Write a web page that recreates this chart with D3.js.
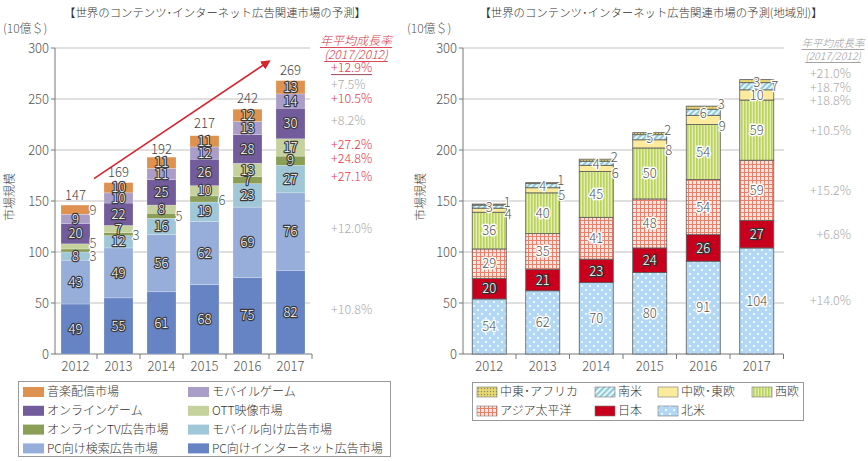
<!DOCTYPE html>
<html><head><meta charset="utf-8">
<script src="https://cdn.jsdelivr.net/npm/d3@7"></script>
<style>
body{margin:0;background:#fff}
text{font-family:"Noto Sans CJK JP","Noto Sans",sans-serif;font-weight:300}
</style>
</head><body>
<svg id="c" width="868" height="461"></svg>
<script>
// ---------- data ----------
const years = ["2012","2013","2014","2015","2016","2017"];
const yTicks = [0,50,100,150,200,250,300];

const leftSeries = ["PC向けインターネット広告市場","PC向け検索広告市場","モバイル向け広告市場","オンラインTV広告市場","OTT映像市場","オンラインゲーム","モバイルゲーム","音楽配信市場"];
const pcInternet = [49,55,61,68,75,82];
const pcSearch   = [43,49,56,62,69,76];
const mobileAd   = [8,12,16,19,23,27];
const onlineTV   = [3,3,5,6,7,9];
const ottVideo   = [5,7,8,10,13,17];
const onlineGame = [20,22,25,26,28,30];
const mobileGame = [9,10,11,12,13,14];
const musicDist  = [9,10,11,11,12,13];
const leftTotals = [147,169,192,217,242,269];
const leftGrowth = ["+10.8%","+12.0%","+27.1%","+24.8%","+27.2%","+8.2%","+10.5%","+7.5%"];
const leftGrowthHigh = [false,false,true,true,true,false,true,false];
const leftTotalGrowth = "+12.9%";

const rightSeries = ["北米","日本","アジア太平洋","西欧","中欧･東欧","南米","中東･アフリカ"];
const northAmerica = [54,62,70,80,91,104];
const japan        = [20,21,23,24,26,27];
const asiaPacific  = [29,35,41,48,54,59];
const westEurope   = [36,40,45,50,54,59];
const ceEurope     = [4,5,6,8,9,10];
const southAmerica = [3,4,4,5,6,7];
const meAfrica     = [1,1,2,2,3,3];
const rightGrowth = ["+14.0%","+6.8%","+15.2%","+10.5%","+18.8%","+18.7%","+21.0%"];

const leftValues = [pcInternet,pcSearch,mobileAd,onlineTV,ottVideo,onlineGame,mobileGame,musicDist];
const rightValues = [northAmerica,japan,asiaPacific,westEurope,ceEurope,southAmerica,meAfrica];

// ---------- styles ----------
const leftColors = ["#6683c3","#97aedb","#a0c7d7","#8a9e55","#c6d29e","#735c9c","#aa9dc8","#df914f"];
const rightFills = ["url(#pNA)","#c8001e","url(#pAP)","url(#pWE)","#fdeb9d","url(#pSA)","url(#pME)"];

const svg = d3.select("#c");
const defs = svg.append("defs");
function pat(id,w,h,build){const p=defs.append("pattern").attr("id",id).attr("patternUnits","userSpaceOnUse").attr("width",w).attr("height",h);build(p);return p;}
pat("pNA",8,8,p=>{p.append("rect").attr("width",8).attr("height",8).attr("fill","#b2d8f6");
  p.append("circle").attr("cx",2).attr("cy",2).attr("r",1.1).attr("fill","#fff");
  p.append("circle").attr("cx",6).attr("cy",6).attr("r",1.1).attr("fill","#fff");});
pat("pAP",4,4,p=>{p.append("rect").attr("width",4).attr("height",4).attr("fill","#fbe7e2");
  p.append("path").attr("d","M0.5,0V4M0,0.5H4").attr("stroke","#e8806c").attr("stroke-width",1);});
pat("pWE",3,3,p=>{p.append("rect").attr("width",3).attr("height",3).attr("fill","#e2edb0");
  p.append("rect").attr("width",1.6).attr("height",3).attr("fill","#bcd25e");});
pat("pSA",4,4,p=>{p.attr("patternTransform","rotate(45)");p.append("rect").attr("width",4).attr("height",4).attr("fill","#e8f5f8");
  p.append("rect").attr("width",2).attr("height",4).attr("fill","#8ecad8");});
pat("pME",3,3,p=>{p.append("rect").attr("width",3).attr("height",3).attr("fill","#e8d870");
  p.append("circle").attr("cx",1.5).attr("cy",1.5).attr("r",0.7).attr("fill","#8a8a70");});
defs.append("marker").attr("id","arr").attr("viewBox","0 0 10 10").attr("refX",8).attr("refY",5)
  .attr("markerWidth",6).attr("markerHeight",6).attr("orient","auto")
  .append("path").attr("d","M0,0L10,5L0,10z").attr("fill","#d8232f");

const y = d3.scaleLinear().domain([0,300]).range([354,48]);
const xL = d3.scaleBand().domain(years).range([54,312]).paddingInner(0.326).paddingOuter(0.163);
const xR = d3.scaleBand().domain(years).range([462.5,783.5]).paddingInner(0.364).paddingOuter(0.182);

function frame(x, axisX, gridEnd){
  const g = svg.append("g");
  g.selectAll(".gl").data(yTicks.filter(d=>d>0)).join("line")
    .attr("x1",axisX).attr("x2",gridEnd).attr("y1",d=>y(d)).attr("y2",d=>y(d))
    .attr("stroke","#d6d6d6").attr("stroke-width",1.5);
  g.append("line").attr("x1",axisX).attr("x2",axisX).attr("y1",y(300)).attr("y2",y(0)).attr("stroke","#777");
  g.selectAll(".tk").data(yTicks).join("line").attr("x1",axisX-4).attr("x2",axisX).attr("y1",d=>y(d)).attr("y2",d=>y(d)).attr("stroke","#777");
  g.selectAll(".tl").data(yTicks).join("text").attr("x",axisX-6).attr("y",d=>y(d)).attr("dy","0.35em")
    .attr("text-anchor","end").attr("font-size",13).attr("fill","#555").text(d=>d);
  g.append("line").attr("x1",axisX).attr("x2",x.range()[1]).attr("y1",y(0)).attr("y2",y(0)).attr("stroke","#777");
  g.selectAll(".bt").data(years).join("line")
    .attr("x1",d=>x(d)+x.bandwidth()+x.step()*x.paddingInner()/2).attr("x2",d=>x(d)+x.bandwidth()+x.step()*x.paddingInner()/2)
    .attr("y1",y(0)).attr("y2",y(0)+5).attr("stroke","#777");
  g.selectAll(".xl").data(years).join("text").attr("x",d=>x(d)+x.bandwidth()/2).attr("y",371)
    .attr("text-anchor","middle").attr("font-size",13).attr("fill","#555").text(d=>d);
  return g;
}
function relax(items, gap){
  for(let it=0;it<100;it++){
    items.sort((a,b)=>b.y-a.y);
    for(let i=1;i<items.length;i++){
      const a=items[i-1], b=items[i];
      if(a.y-b.y<gap){const d=(gap-(a.y-b.y))/2; if(!a.fixed) a.y+=d; else b.y-=d; if(!b.fixed) b.y-=d; else a.y+=d;}
    }
  }
  return items;
}
function label(g,x,yy,t,fill,stroke,sw){
  g.append("text").attr("x",x).attr("y",yy).attr("dy","0.36em").attr("text-anchor","middle")
   .attr("font-size",13).attr("fill",fill).attr("stroke",stroke).attr("stroke-width",sw)
   .attr("stroke-linejoin","round").attr("paint-order","stroke").text(t);
}

// ---------- titles ----------
svg.append("text").attr("x",215).attr("y",17).attr("text-anchor","middle").attr("font-size",11.4).attr("font-weight",400).attr("fill","#333")
  .text("【世界のコンテンツ･インターネット広告関連市場の予測】");
svg.append("text").attr("x",651).attr("y",17).attr("text-anchor","middle").attr("font-size",11.4).attr("font-weight",400).attr("fill","#333")
  .text("【世界のコンテンツ･インターネット広告関連市場の予測(地域別)】");
[[3],[407]].forEach(([x0])=>svg.append("text").attr("x",x0).attr("y",33).attr("font-size",12).attr("fill","#555").text("(10億＄)"));
[[10],[421]].forEach(([x0])=>svg.append("text").attr("transform",`translate(${x0+4},197) rotate(-90)`).attr("text-anchor","middle")
  .attr("font-size",12).attr("fill","#444").text("市場規模"));

// ---------- left chart ----------
const gL = frame(xL,55,310);
const stackL = d3.stack().keys(d3.range(leftSeries.length)).value((d,k)=>leftValues[k][d])(d3.range(years.length));
const outsideL = new Set(["0|7"]);
stackL.forEach((s,k)=>{
  gL.selectAll(null).data(s).join("rect")
    .attr("x",(d,i)=>xL(years[i])).attr("width",xL.bandwidth())
    .attr("y",d=>y(d[1])).attr("height",d=>y(d[0])-y(d[1]))
    .attr("fill",leftColors[k]).attr("stroke","#ffffff").attr("stroke-opacity",0.35).attr("stroke-width",0.6);
});
years.forEach((yr,i)=>{
  const outs=[];
  stackL.forEach((s,k)=>{
    const d=s[i], v=leftValues[k][i], mid=y((d[0]+d[1])/2);
    if(v<=6 || outsideL.has(i+"|"+k)) outs.push({y:mid+1,t:v});
    else label(gL,xL(yr)+xL.bandwidth()/2,mid,v,"#fff","#3a3a3a",2.4);
  });
  relax(outs,13).forEach(o=>label(gL,xL(yr)+xL.bandwidth()+3,o.y,o.t,"#555","#fff",2.5));
  gL.append("text").attr("x",xL(yr)+xL.bandwidth()/2).attr("y",y(leftTotals[i])-9).attr("dy","0.36em")
    .attr("text-anchor","middle").attr("font-size",13).attr("fill","#444").text(leftTotals[i]);
});
// arrow
svg.append("line").attr("x1",xL("2012")+xL.bandwidth()+4).attr("y1",y(172))
  .attr("x2",xL("2017")-7).attr("y2",y(287)).attr("stroke","#d8232f").attr("stroke-width",1.6).attr("marker-end","url(#arr)");
// growth headers
function header(cx,color,fs,y1,y2){
  const g=svg.append("g");
  [["年平均成長率",y1],["(2017/2012)",y2]].forEach(([t,yy])=>{
    const tx=g.append("text").attr("x",cx).attr("y",yy).attr("text-anchor","middle").attr("font-size",fs)
      .attr("font-style","italic").attr("fill",color).text(t);
    const w=tx.node().getComputedTextLength();
    g.append("line").attr("x1",cx-w/2).attr("x2",cx+w/2).attr("y1",yy+2.5).attr("y2",yy+2.5).attr("stroke",color).attr("stroke-width",0.9);
  });
}
header(356,"#d8344a",12,45,59);
header(833,"#999",10.5,47,60);
const last=years.length-1;
const gLitems = stackL.map((s,k)=>({y:y((s[last][0]+s[last][1])/2)-3,t:leftGrowth[k],c:leftGrowthHigh[k]?"#e0364a":"#a9a9a9"}));
gLitems.push({y:y(leftTotals[last])-12,t:leftTotalGrowth,c:"#e0364a",fixed:true,total:true});
relax(gLitems,14).forEach(o=>{
  const t=svg.append("text").attr("x",331).attr("y",o.y).attr("dy","0.36em").attr("font-size",12.5).attr("fill",o.c).text(o.t);
  if(o.total){const w=t.node().getComputedTextLength();
    svg.append("line").attr("x1",331).attr("x2",331+w).attr("y1",o.y+7).attr("y2",o.y+7).attr("stroke","#9b4a58").attr("stroke-width",1);}
});

// ---------- right chart ----------
const gR = frame(xR,463,784);
const stackR = d3.stack().keys(d3.range(rightSeries.length)).value((d,k)=>rightValues[k][d])(d3.range(years.length));
stackR.forEach((s,k)=>{
  gR.selectAll(null).data(s).join("rect")
    .attr("x",(d,i)=>xR(years[i])).attr("width",xR.bandwidth())
    .attr("y",d=>y(d[1])).attr("height",d=>y(d[0])-y(d[1]))
    .attr("fill",rightFills[k]).attr("stroke","#5a5a5a").attr("stroke-width",0.8);
});
years.forEach((yr,i)=>{
  const cx=xR(yr)+xR.bandwidth()/2, rx=xR(yr)+xR.bandwidth()+1;
  stackR.forEach((s,k)=>{
    const d=s[i], v=rightValues[k][i], mid=y((d[0]+d[1])/2);
    if(k<=3){ if(k===1) label(gR,cx,mid,v,"#fff","#333",2.4); else label(gR,cx,mid,v,"#555","#fff",3); }
  });
  const ce=stackR[4][i], sa=stackR[5][i], me=stackR[6][i];
  const saOut = southAmerica[i]>=7;
  if(ceEurope[i]<10) label(gR,rx+1,y(ce[0])+2,ceEurope[i],"#555","#fff",2.5);
  else label(gR,cx,y((ce[0]+ce[1])/2),ceEurope[i],"#555","#fff",2.5);
  if(saOut){
    label(gR,rx,y((sa[0]+sa[1])/2),southAmerica[i],"#555","#fff",2.5);
    label(gR,cx,y((me[0]+me[1])/2)+1,meAfrica[i],"#555","#fff",2.5);
  } else {
    label(gR,cx,y((sa[0]+sa[1])/2)+1,southAmerica[i],"#555","#fff",2.5);
    label(gR,rx,y(me[1])-2,meAfrica[i],"#555","#fff",2.5);
  }
});
const rItems = stackR.map((s,k)=>({y:y((s[last][0]+s[last][1])/2),t:rightGrowth[k]}));
relax(rItems,13.5).forEach(o=>svg.append("text").attr("x",851).attr("y",o.y).attr("dy","0.36em")
  .attr("text-anchor","end").attr("font-size",12.5).attr("fill","#a9a9a9").text(o.t));

// ---------- legends ----------
const legL = svg.append("g");
legL.append("rect").attr("x",18.5).attr("y",381.5).attr("width",372).attr("height",75).attr("fill","#fff").attr("stroke","#999");
const legLOrder = d3.range(leftSeries.length).reverse();
legLOrder.forEach((k,j)=>{
  const col=j%2, row=Math.floor(j/2);
  const lx=[23,188][col], ly=392+row*18.8;
  legL.append("rect").attr("x",lx).attr("y",ly-5).attr("width",21).attr("height",10).attr("fill",leftColors[k]);
  legL.append("text").attr("x",lx+24).attr("y",ly).attr("dy","0.36em").attr("font-size",12).attr("fill","#333").text(leftSeries[k]);
});
const legR = svg.append("g");
legR.append("rect").attr("x",472.5).attr("y",382.5).attr("width",331).attr("height",38).attr("fill","#fff").attr("stroke","#999");
const legROrder = d3.range(rightSeries.length).reverse();
legROrder.forEach((k,j)=>{
  const col=j%4, row=Math.floor(j/4);
  const lx=[477,595,658,752][col], ly=392+row*19;
  legR.append("rect").attr("x",lx).attr("y",ly-5).attr("width",20).attr("height",10).attr("fill",rightFills[k]).attr("stroke","#777").attr("stroke-width",0.6);
  legR.append("text").attr("x",lx+23).attr("y",ly).attr("dy","0.36em").attr("font-size",12).attr("fill","#333").text(rightSeries[k]);
});
</script>
</body></html>
